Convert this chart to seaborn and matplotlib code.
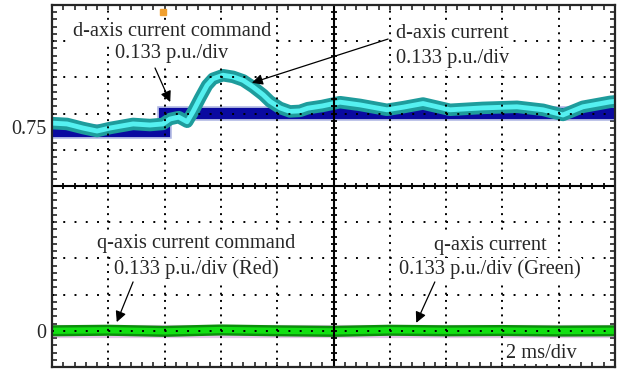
import matplotlib
matplotlib.use("Agg")
import matplotlib.pyplot as plt
from matplotlib.ticker import MultipleLocator, FixedLocator
import seaborn as sns

# scope settings
DIV_T = 2.0      # ms/div
DIV_Y = 0.133    # p.u./div

# d-axis current command (blue) and measured d-axis current (cyan)
t_id_cmd = [0, 3.98, 3.98, 20]
id_cmd = [0.735, 0.735, 0.802, 0.802]

t_id = [0, 0.53, 1.1, 1.6, 2.06, 2.88, 3.48, 3.94, 4.19, 4.5, 4.8, 5.01, 5.26,
        5.51, 5.72, 6.07, 6.43, 6.79, 7.14, 7.5, 7.74, 8.1, 8.45, 8.81, 9.09,
        9.6, 10.23, 10.94, 11.9, 12.5, 13.18, 14.14, 15.31, 16.52, 17.44, 18.15,
        18.86, 19.82, 20]
id_meas = [0.763, 0.760, 0.745, 0.734, 0.745, 0.760, 0.756, 0.760, 0.778, 0.785,
           0.768, 0.805, 0.855, 0.902, 0.926, 0.939, 0.933, 0.920, 0.896, 0.867,
           0.843, 0.819, 0.806, 0.808, 0.818, 0.826, 0.840, 0.830, 0.812, 0.822,
           0.835, 0.812, 0.819, 0.823, 0.812, 0.793, 0.823, 0.841, 0.843]

# q-axis current command (red) and measured q-axis current (green)
t_q = [0, 2, 4, 6, 8, 10, 12, 14, 16, 18, 20]
iq_cmd = [0, 0, 0, 0, 0, 0, 0, 0, 0, 0, 0]
iq_meas = [0.0, 0.002, -0.002, 0.003, 0.0, -0.002, 0.002, 0.0, 0.001, -0.001, 0.0]

y_labels = {0.0: "0", 0.75: "0.75"}

sns.set_style("ticks")
plt.rcParams["font.family"] = ["Liberation Serif", "DejaVu Serif"]

fig = plt.figure(figsize=(6.19, 3.69), dpi=100)
ax = fig.add_axes([52 / 619, 2 / 369, 563 / 619, 362 / 369])

x_lo, x_hi = 0, 10 * DIV_T
y_lo, y_hi = -DIV_Y, 9 * DIV_Y
ax.set_xlim(x_lo, x_hi)
ax.set_ylim(y_lo, y_hi)

# traces
flat = dict(estimator=None, sort=False, solid_capstyle="butt", solid_joinstyle="miter")
smooth = dict(estimator=None, sort=False, solid_capstyle="butt", solid_joinstyle="round")
sns.lineplot(x=t_id_cmd, y=id_cmd, color="#5060c0", lw=10.5, alpha=0.45, ax=ax, **flat)
sns.lineplot(x=t_id_cmd, y=id_cmd, color="#0a0aa0", lw=8, ax=ax, **flat)
sns.lineplot(x=t_id, y=id_meas, color="#1e9c9c", lw=9, ax=ax, **smooth)
sns.lineplot(x=t_id, y=id_meas, color="#55f0f0", lw=3.5, ax=ax, **smooth)
sns.lineplot(x=t_q, y=iq_cmd, color="#a040b0", lw=9.5, alpha=0.3, ax=ax, **smooth)
sns.lineplot(x=t_q, y=iq_meas, color="#0b8f0b", lw=8, ax=ax, **smooth)
sns.lineplot(x=t_q, y=iq_meas, color="#12e012", lw=4.5, ax=ax, **smooth)

# dotted graticule
for k in range(1, 10):
    if k != 5:
        ax.axvline(k * DIV_T, color="black", lw=1.4, ls=(0, (1, 2.72)), zorder=5)
        ax.axhline(y_lo + k * DIV_Y, color="black", lw=1.4, ls=(0, (1, 4.79)), zorder=5)

# centre cross with small ticks
xc, yc = 5 * DIV_T, y_lo + 5 * DIV_Y
ax.axvline(xc, color="black", lw=1.5, zorder=6)
ax.axhline(yc, color="black", lw=1.5, zorder=6)
xt = [x_lo + i * DIV_T / 5 for i in range(51)]
yt = [y_lo + i * DIV_Y / 5 for i in range(51)]
ax.plot(xt, [yc] * len(xt), ls="none", marker="|", ms=5, mew=1.3, color="black", zorder=6)
ax.plot([xc] * len(yt), yt, ls="none", marker="_", ms=5, mew=1.3, color="black", zorder=6)

# frame ticks
ax.xaxis.set_minor_locator(MultipleLocator(DIV_T / 5))
ax.yaxis.set_minor_locator(FixedLocator(yt))
ax.set_xticks([])
ax.yaxis.set_major_locator(FixedLocator(list(y_labels)))
ax.set_yticklabels(list(y_labels.values()))
ax.tick_params(which="minor", direction="in", length=3.5, width=1.2,
               top=True, right=True, bottom=True, left=True)
ax.tick_params(which="major", length=0, pad=4, labelsize=14.5)
for s in ax.spines.values():
    s.set_linewidth(1.6)
    s.set_zorder(7)

# trigger marker
ax.plot([3.95], [1.171], marker="s", ms=4, color="#f0a030", clip_on=False, zorder=8)

box = dict(facecolor="white", edgecolor="none", pad=1)
fs = 14.7
ax.text(0.213, 0.928, "d-axis current command", transform=ax.transAxes, ha="center",
        va="center", fontsize=fs, bbox=box, zorder=9)
ax.text(0.213, 0.865, "0.133 p.u./div", transform=ax.transAxes, ha="center",
        va="center", fontsize=fs, bbox=box, zorder=9)
ax.text(0.611, 0.922, "d-axis current", transform=ax.transAxes, ha="left",
        va="center", fontsize=fs, bbox=box, zorder=9)
ax.text(0.611, 0.851, "0.133 p.u./div", transform=ax.transAxes, ha="left",
        va="center", fontsize=fs, bbox=box, zorder=9)
ax.text(0.256, 0.340, "q-axis current command", transform=ax.transAxes, ha="center",
        va="center", fontsize=fs, bbox=box, zorder=9)
ax.text(0.256, 0.270, "0.133 p.u./div (Red)", transform=ax.transAxes, ha="center",
        va="center", fontsize=fs, bbox=box, zorder=9)
ax.text(0.778, 0.337, "q-axis current", transform=ax.transAxes, ha="center",
        va="center", fontsize=fs, bbox=box, zorder=9)
ax.text(0.777, 0.270, "0.133 p.u./div (Green)", transform=ax.transAxes, ha="center",
        va="center", fontsize=fs, bbox=box, zorder=9)
ax.text(0.870, 0.038, "2 ms/div", transform=ax.transAxes, ha="center",
        va="center", fontsize=fs, bbox=box, zorder=9)

arrow = dict(arrowstyle="-|>", color="black", lw=0.9, mutation_scale=16,
             shrinkA=0, shrinkB=0)
for tail, head in [((0.183, 0.826), (0.210, 0.732)),
                   ((0.597, 0.906), (0.355, 0.785)),
                   ((0.144, 0.235), (0.115, 0.124)),
                   ((0.680, 0.235), (0.647, 0.122))]:
    ax.annotate("", xy=head, xytext=tail, xycoords="axes fraction",
                textcoords="axes fraction", arrowprops=arrow, zorder=9)

fig.savefig("out.png", dpi=100)
